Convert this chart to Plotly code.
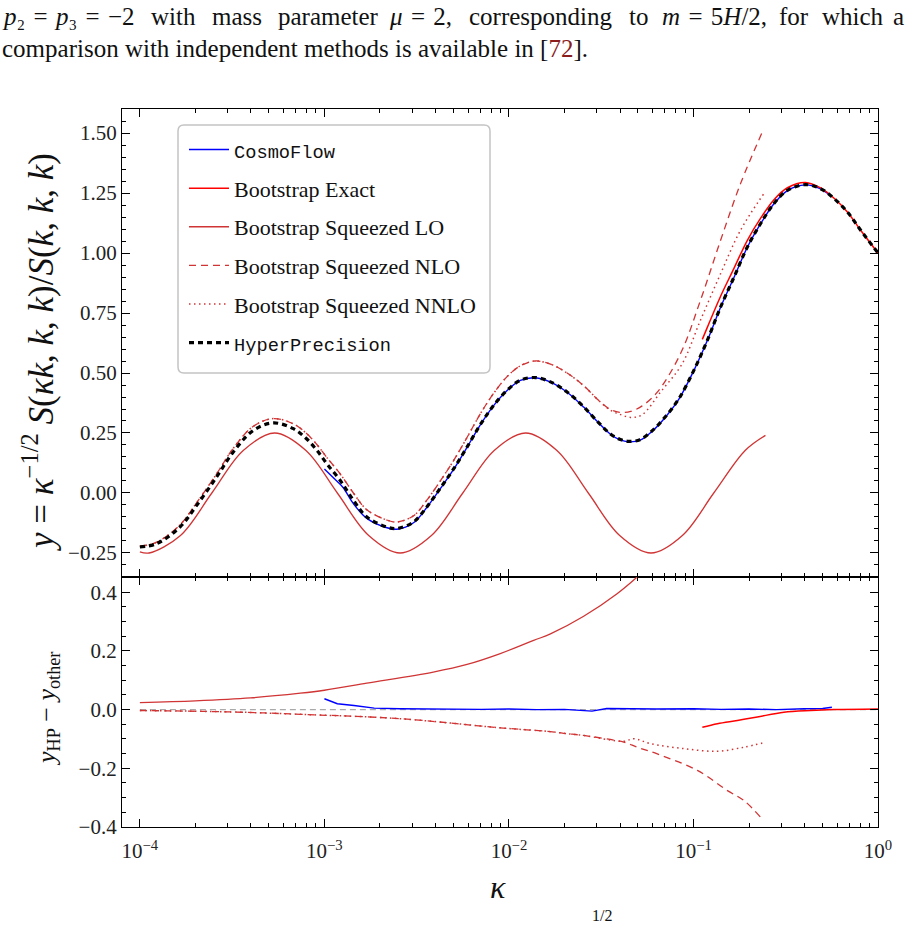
import numpy as np
import plotly.graph_objects as go

# ---------------- data (log10 kappa, value) ----------------
HP_LOGK = [-4.0, -3.909, -3.783, -3.692, -3.584, -3.494, -3.385, -3.277, -3.168, -3.10, -3.041,
           -2.987, -2.915, -2.843, -2.770, -2.661, -2.607, -2.517, -2.445, -2.372, -2.30, -2.228,
           -2.155, -2.083, -2.010, -1.938, -1.857, -1.775, -1.685, -1.595, -1.513, -1.45, -1.40,
           -1.35, -1.29, -1.22, -1.15, -1.079, -0.998, -0.925, -0.853, -0.780, -0.708, -0.636,
           -0.564, -0.491, -0.393, -0.311, -0.238, -0.166, -0.094, 0.0]
HP_Y = [-0.225, -0.211, -0.142, -0.051, 0.067, 0.171, 0.261, 0.292, 0.268, 0.228, 0.178,
        0.122, 0.053, -0.030, -0.100, -0.142, -0.148, -0.121, -0.058, 0.020, 0.100, 0.190,
        0.285, 0.365, 0.428, 0.470, 0.481, 0.463, 0.421, 0.359, 0.292, 0.246, 0.224,
        0.215, 0.222, 0.262, 0.320, 0.393, 0.511, 0.636, 0.775, 0.900, 1.025, 1.123,
        1.206, 1.261, 1.285, 1.268, 1.227, 1.171, 1.095, 1.000]

CF_LOGK = [-3.0, -2.95, -2.90, -2.843, -2.77, -2.661, -2.607, -2.517, -2.445, -2.372, -2.30,
           -2.228, -2.155, -2.083, -2.010, -1.938, -1.857, -1.775, -1.685, -1.595, -1.513, -1.45,
           -1.40, -1.35, -1.29, -1.22, -1.15, -1.079, -0.998, -0.925, -0.853, -0.780, -0.708,
           -0.636, -0.564, -0.491, -0.393, -0.311, -0.26]
CF_Y = [0.100, 0.062, 0.024, -0.044, -0.106, -0.145, -0.151, -0.124, -0.060, 0.018, 0.098,
        0.189, 0.284, 0.364, 0.427, 0.469, 0.480, 0.462, 0.420, 0.358, 0.291, 0.245,
        0.222, 0.213, 0.220, 0.260, 0.318, 0.391, 0.510, 0.635, 0.774, 0.899, 1.024,
        1.122, 1.205, 1.260, 1.284, 1.267, 1.24]

EX_LOGK = [-0.952, -0.925, -0.853, -0.780, -0.708, -0.636, -0.564, -0.491, -0.393, -0.311,
           -0.238, -0.166, -0.094, 0.0]
EX_Y = [0.640, 0.690, 0.820, 0.937, 1.053, 1.145, 1.222, 1.272, 1.294, 1.271,
        1.228, 1.171, 1.095, 1.000]

LO_LOGK = [-4.0, -3.95, -3.78, -3.61, -3.44, -3.27, -3.10, -2.93, -2.76, -2.59, -2.42, -2.25,
           -2.08, -1.91, -1.74, -1.57, -1.40, -1.23, -1.06, -0.89, -0.72, -0.61]
LO_Y = [-0.245, -0.250, -0.177, 0.0, 0.177, 0.250, 0.177, 0.0, -0.177, -0.250, -0.177, 0.0,
        0.177, 0.250, 0.177, 0.0, -0.177, -0.250, -0.177, 0.0, 0.177, 0.240]

NLO_LOGK = [-4.0, -3.909, -3.783, -3.692, -3.584, -3.494, -3.385, -3.277, -3.168, -3.10, -3.041,
            -2.987, -2.915, -2.843, -2.770, -2.661, -2.607, -2.517, -2.445, -2.372, -2.30, -2.228,
            -2.155, -2.083, -2.010, -1.938, -1.857, -1.775, -1.685, -1.595, -1.513, -1.45, -1.40,
            -1.34, -1.28, -1.196, -1.07, -0.962, -0.853, -0.745, -0.627]
NLO_Y = [-0.222, -0.205, -0.133, -0.040, 0.080, 0.186, 0.278, 0.310, 0.288, 0.250, 0.202,
         0.148, 0.080, 0.000, -0.070, -0.113, -0.121, -0.095, -0.030, 0.050, 0.135, 0.230,
         0.330, 0.415, 0.485, 0.530, 0.550, 0.537, 0.500, 0.447, 0.385, 0.348, 0.336,
         0.340, 0.362, 0.420, 0.581, 0.803, 1.053, 1.289, 1.504]

NNLO_LOGK = [-4.0, -3.909, -3.783, -3.692, -3.584, -3.494, -3.385, -3.277, -3.168, -3.10, -3.041,
             -2.987, -2.915, -2.843, -2.770, -2.661, -2.607, -2.517, -2.445, -2.372, -2.30, -2.228,
             -2.155, -2.083, -2.010, -1.938, -1.857, -1.775, -1.685, -1.595, -1.513, -1.45, -1.40,
             -1.34, -1.28, -1.178, -1.061, -0.962, -0.853, -0.745, -0.618]
NNLO_Y = [-0.222, -0.205, -0.133, -0.040, 0.080, 0.186, 0.278, 0.310, 0.288, 0.250, 0.202,
          0.148, 0.080, 0.000, -0.070, -0.113, -0.121, -0.095, -0.030, 0.050, 0.135, 0.230,
          0.330, 0.415, 0.485, 0.530, 0.550, 0.537, 0.500, 0.447, 0.385, 0.345, 0.328,
          0.315, 0.325, 0.421, 0.539, 0.720, 0.914, 1.095, 1.248]

# differences y_HP - y_other
D_LO_LOGK = [-4.0, -3.7, -3.4, -3.13, -3.0, -2.77, -2.41, -2.227, -2.047, -1.866, -1.775, -1.595,
             -1.414, -1.305]
D_LO_Y = [0.024, 0.030, 0.040, 0.056, 0.066, 0.090, 0.128, 0.154, 0.191, 0.236, 0.258, 0.318,
          0.395, 0.452]

D_NLO_LOGK = [-4.0, -3.5, -3.13, -2.589, -2.047, -1.775, -1.685, -1.595, -1.378, -1.305, -1.196,
              -0.979, -0.816, -0.726, -0.636]
D_NLO_Y = [-0.003, -0.008, -0.016, -0.031, -0.062, -0.075, -0.082, -0.088, -0.111, -0.128, -0.151,
           -0.207, -0.276, -0.310, -0.367]

D_NNLO_LOGK = [-4.0, -3.5, -3.13, -2.589, -2.047, -1.775, -1.685, -1.595, -1.378, -1.323, -1.233,
               -1.052, -0.870, -0.726, -0.627]
D_NNLO_Y = [-0.003, -0.008, -0.016, -0.031, -0.062, -0.075, -0.082, -0.088, -0.108, -0.099, -0.116,
            -0.133, -0.142, -0.128, -0.114]

D_CF_LOGK = [-3.0, -2.93, -2.84, -2.73, -2.59, -2.45, -2.3, -2.15, -2.0, -1.85, -1.7, -1.6, -1.55,
             -1.47, -1.35, -1.2, -1.0, -0.85, -0.7, -0.55, -0.4, -0.3, -0.25]
D_CF_Y = [0.037, 0.020, 0.014, 0.005, 0.003, 0.002, 0.003, 0.001, 0.002, 0.000, 0.001, -0.003,
          -0.005, 0.004, 0.003, 0.002, 0.003, 0.001, 0.002, 0.000, 0.003, 0.004, 0.008]

D_EX_LOGK = [-0.952, -0.870, -0.762, -0.654, -0.510, -0.365, -0.239, 0.0]
D_EX_Y = [-0.060, -0.048, -0.037, -0.025, -0.009, -0.003, 0.000, 0.002]

ZERO_LOGK = [-4.0, 0.0]
ZERO_Y = [0.0, 0.0]

X_TICKS = [1e-4, 1e-3, 1e-2, 1e-1, 1.0]
X_TICK_TEXT = ["10<sup>−4</sup>", "10<sup>−3</sup>", "10<sup>−2</sup>", "10<sup>−1</sup>", "10<sup>0</sup>"]

# paragraph text above the figure (justified first line, split in pieces)
SP = "\u2004"
PARA_LINE1 = [f"<i>p</i>₂{SP}={SP}<i>p</i>₃{SP}={SP}−2", "with", "mass", "parameter",
              f"<i>μ</i>{SP}={SP}2,", "corresponding", "to", f"<i>m</i>{SP}={SP}5<i>H</i>/2,", "for", "which"]
PARA_LINE1_X = [0, 149, 210, 276, 387, 467, 627, 660, 777, 820]
PARA_LINE1_END = "a"
PARA_LINE2 = "comparison with independent methods is available in [<span style=\"color:#8b1c1c\">72</span>]."

# ---------------- styling ----------------
BLUE = "#0000ff"
RED = "#ff0000"
DRED = "#d03434"
SERIF = "Liberation Serif"
MONO = "Liberation Mono"


def k(v):
    return 10 ** np.asarray(v, dtype=float)


fig = go.Figure()

top = dict(xaxis="x", yaxis="y")
bot = dict(xaxis="x2", yaxis="y2")

mono = lambda s: f"<span style=\"font-family:{MONO};font-size:18.7px\">{s}</span>"

fig.add_trace(go.Scatter(x=k(CF_LOGK), y=CF_Y, mode="lines", line=dict(color=BLUE, width=1.4, shape="spline"),
                         name=mono("CosmoFlow"), legendgroup="a", **top))
fig.add_trace(go.Scatter(x=k(EX_LOGK), y=EX_Y, mode="lines", line=dict(color=RED, width=1.5, shape="spline"),
                         name="Bootstrap Exact", legendgroup="b", **top))
fig.add_trace(go.Scatter(x=k(LO_LOGK), y=LO_Y, mode="lines", line=dict(color=DRED, width=1.3, shape="spline"),
                         name="Bootstrap Squeezed LO", legendgroup="c", **top))
fig.add_trace(go.Scatter(x=k(NLO_LOGK), y=NLO_Y, mode="lines",
                         line=dict(color=DRED, width=1.3, dash="7px,5px", shape="spline"),
                         name="Bootstrap Squeezed NLO", legendgroup="d", **top))
fig.add_trace(go.Scatter(x=k(NNLO_LOGK), y=NNLO_Y, mode="lines",
                         line=dict(color=DRED, width=1.5, dash="1.5px,3.5px", shape="spline"),
                         name="Bootstrap Squeezed NNLO", legendgroup="e", **top))
fig.add_trace(go.Scatter(x=k(HP_LOGK), y=HP_Y, mode="lines",
                         line=dict(color="black", width=3.2, dash="5px,4px", shape="spline"),
                         name=mono("HyperPrecision"), legendgroup="f", **top))

# bottom panel
fig.add_trace(go.Scatter(x=k(ZERO_LOGK), y=ZERO_Y, mode="lines", line=dict(color="#aaaaaa", width=1.2, dash="6px,4px"),
                         showlegend=False, **bot))
fig.add_trace(go.Scatter(x=k(D_CF_LOGK), y=D_CF_Y, mode="lines", line=dict(color=BLUE, width=1.4),
                         showlegend=False, **bot))
fig.add_trace(go.Scatter(x=k(D_EX_LOGK), y=D_EX_Y, mode="lines", line=dict(color=RED, width=1.5, shape="spline"),
                         showlegend=False, **bot))
fig.add_trace(go.Scatter(x=k(D_LO_LOGK), y=D_LO_Y, mode="lines", line=dict(color=DRED, width=1.3, shape="spline"),
                         showlegend=False, **bot))
fig.add_trace(go.Scatter(x=k(D_NLO_LOGK), y=D_NLO_Y, mode="lines",
                         line=dict(color=DRED, width=1.3, dash="7px,5px", shape="spline"),
                         showlegend=False, **bot))
fig.add_trace(go.Scatter(x=k(D_NNLO_LOGK), y=D_NNLO_Y, mode="lines",
                         line=dict(color=DRED, width=1.5, dash="1.5px,3.5px", shape="spline"),
                         showlegend=False, **bot))

XMIN = np.log10(8e-5)
minor_x = [m * 10.0 ** e for e in range(-4, 0) for m in range(2, 10)]

axis_common = dict(showline=True, linecolor="black", linewidth=1.3, mirror="ticks", ticks="inside",
                   ticklen=8, tickwidth=1.2, tickcolor="black", showgrid=False, zeroline=False,
                   tickfont=dict(family=SERIF, size=21, color="#222"))

fig.update_layout(
    width=909, height=926,
    margin=dict(l=122, r=31, t=109, b=99),
    paper_bgcolor="white", plot_bgcolor="white",
    showlegend=True,
    xaxis=dict(type="log", range=[XMIN, 0], domain=[0, 1], anchor="y", showticklabels=False,
               tickmode="array", tickvals=X_TICKS,
               minor=dict(tickmode="array", tickvals=minor_x, ticks="inside", ticklen=4, tickwidth=1.1,
                          tickcolor="black"),
               **axis_common),
    xaxis2=dict(type="log", range=[XMIN, 0], domain=[0, 1], anchor="y2", matches="x",
                tickmode="array", tickvals=X_TICKS, ticktext=X_TICK_TEXT, ticklabelstandoff=5,
                minor=dict(tickmode="array", tickvals=minor_x, ticks="inside", ticklen=4, tickwidth=1.1,
                           tickcolor="black"),
                **axis_common),
    yaxis=dict(range=[-0.35, 1.6], domain=[0.3482, 1.0], anchor="x", tick0=0, dtick=0.25,
               tickformat=".2f",
               minor=dict(dtick=0.05, tick0=0, ticks="inside", ticklen=4, tickwidth=1.1, tickcolor="black"),
               **axis_common),
    yaxis2=dict(range=[-0.4, 0.452], domain=[0.0, 0.3482], anchor="x2", tick0=0, dtick=0.2,
                tickformat=".1f",
                minor=dict(dtick=0.05, tick0=0, ticks="inside", ticklen=4, tickwidth=1.1, tickcolor="black"),
                **axis_common),
    legend=dict(x=0.082, y=0.9725, xanchor="left", yanchor="top", bgcolor="rgba(0,0,0,0)", borderwidth=0,
                font=dict(family=SERIF, size=22, color="#111"), tracegroupgap=7, itemwidth=40),
)

# rounded legend frame
x0, x1 = (178 - 122) / 756, (490 - 122) / 756
y1, y0 = (827 - 125) / 718, (827 - 373) / 718
rx, ry = 6 / 756, 6 / 718
path = (f"M {x0+rx},{y1} L {x1-rx},{y1} Q {x1},{y1} {x1},{y1-ry} L {x1},{y0+ry} Q {x1},{y0} {x1-rx},{y0} "
        f"L {x0+rx},{y0} Q {x0},{y0} {x0},{y0+ry} L {x0},{y1-ry} Q {x0},{y1} {x0+rx},{y1} Z")
fig.add_shape(type="path", path=path, xref="paper", yref="paper", fillcolor="white",
              line=dict(color="#c4c4c4", width=1.5), layer="above")


def px2x(px):
    return (px - 122) / 756


def py2y(py):
    return (827 - py) / 718


PFONT = dict(family=SERIF, size=25, color="#111")
ann = []
for txt, xp in zip(PARA_LINE1, PARA_LINE1_X):
    ann.append(dict(text=txt, x=px2x(xp), y=py2y(17), xanchor="left", yanchor="middle", showarrow=False,
                    font=PFONT))
ann.append(dict(text=PARA_LINE1_END, x=px2x(906), y=py2y(17), xanchor="right", yanchor="middle", showarrow=False,
                font=PFONT))
ann.append(dict(text=PARA_LINE2, x=px2x(0), y=py2y(49), xanchor="left", yanchor="middle", showarrow=False,
                font=PFONT))
ann.append(dict(text="<i>y</i> = <i>κ</i><sup>−1/2</sup> <i>S</i>(<i>κk</i>, <i>k</i>, <i>k</i>)/<i>S</i>(<i>k</i>, <i>k</i>, <i>k</i>)",
                x=px2x(38), y=py2y(352), xanchor="center", yanchor="middle", textangle=-90, showarrow=False,
                font=dict(family=SERIF, size=35, color="#111")))
ann.append(dict(text="<i>y</i><sub>HP</sub> − <i>y</i><sub>other</sub>",
                x=px2x(48), y=py2y(709), xanchor="center", yanchor="middle", textangle=-90, showarrow=False,
                font=dict(family=SERIF, size=26, color="#111")))
ann.append(dict(text="<i>κ</i>", x=px2x(498), y=py2y(887), xanchor="center", yanchor="middle", showarrow=False,
                font=dict(family=SERIF, size=32, color="#111")))
ann.append(dict(text="1/2", x=px2x(602), y=py2y(915), xanchor="center", yanchor="middle", showarrow=False,
                font=dict(family=SERIF, size=16, color="#111")))
fig.update_layout(annotations=[dict(xref="paper", yref="paper", **a) for a in ann])

fig.write_html("out.html")
